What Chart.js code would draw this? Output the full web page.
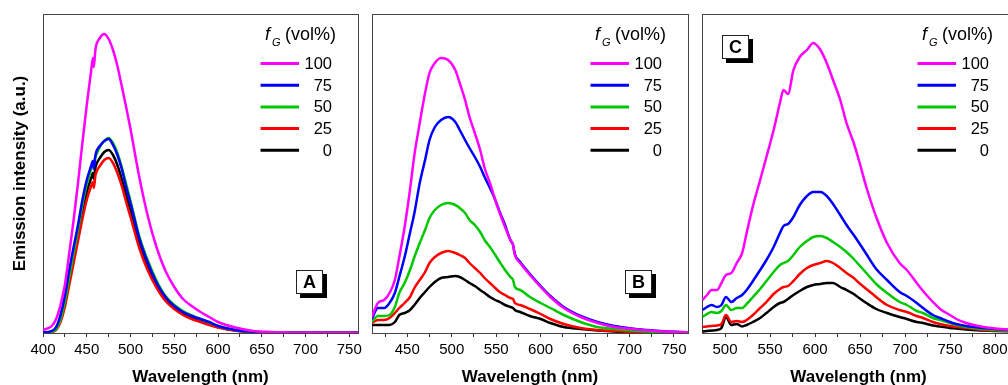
<!DOCTYPE html>
<html>
<head>
<meta charset="utf-8">
<script src="https://cdn.jsdelivr.net/npm/chart.js@4.4.1/dist/chart.umd.min.js"></script>
<style>
  html, body { margin: 0; padding: 0; background: #fff; overflow: hidden; width: 1008px; height: 385px; }
  canvas { position: absolute; top: 0; }
  #chartA { left: 0; }
  #chartB { left: 366px; }
  #chartC { left: 695px; }
</style>
</head>
<body>
<canvas id="chartA" width="366" height="385"></canvas>
<canvas id="chartB" width="329" height="385"></canvas>
<canvas id="chartC" width="335" height="385"></canvas>
<script>
var fgLabels = ["100", "75", "50", "25", "0"];
var colors = ["#ff00ff", "#0000ff", "#00c800", "#ff0000", "#000000"];
var FONT = '"Liberation Sans", Arial, sans-serif';

// panel A
var wlA = [400, 410, 415, 420, 425, 430, 435, 440, 445, 450, 455, 457, 458, 460, 465, 470, 475, 480, 485, 490, 495, 500,
  510, 520, 530, 540, 550, 560, 570, 580, 590, 600, 620, 640, 660, 680, 700, 730, 760];
var a100 = [3, 7, 14, 28, 48, 80, 113, 150, 190, 228, 262, 275, 266, 284, 295, 299, 294, 283, 267, 247, 226, 204,
  156, 116, 85, 62, 46, 34, 27, 21, 16, 11, 5.5, 2, 1, 0.6, 0.4, 0.3, 0.3];
var a75 = [0.5, 2, 6, 18, 37, 63, 86, 108, 133, 153, 167, 172, 164, 178, 187, 192, 194, 188, 178, 164, 146, 130,
  95, 70, 50, 36, 27, 21, 17, 14, 11, 7, 3, 1.2, 0.5, 0.3, 0.2, 0.2, 0.2];
var a50 = [0.3, 1.5, 4, 14, 31, 56, 80, 103, 128, 149, 164, 169, 171, 176, 186, 192, 195, 190, 180, 166, 149, 132,
  97, 72, 52, 37, 28, 22, 17.5, 14, 10.5, 7, 3, 1.2, 0.5, 0.3, 0.2, 0.2, 0.2];
var a25 = [0.2, 1, 3, 11, 26, 48, 70, 92, 114, 133, 147, 151, 145, 158, 167, 173, 175, 170, 160, 147, 131, 116,
  85, 62, 45, 32, 24, 18, 14, 11, 8, 5.5, 2.3, 0.9, 0.4, 0.3, 0.2, 0.2, 0.2];
var a0 = [0.3, 1.5, 4, 14, 30, 54, 77, 99, 122, 141, 155, 160, 154, 166, 175, 181, 183, 178, 168, 154, 138, 122,
  89, 65, 47, 34, 25, 19, 15, 12, 9, 6, 2.5, 1, 0.4, 0.3, 0.2, 0.2, 0.2];
var ticksA = [400, 425, 450, 475, 500, 525, 550, 575, 600, 625, 650, 675, 700, 725, 750];

// panel B
var wlB = [410, 417, 424, 430, 436, 441, 447, 453, 458, 464, 470, 475, 481, 488, 496, 504, 509, 515, 520, 526,
  532, 537, 543, 549, 554, 560, 566, 569, 571, 577, 588, 600, 611, 626, 645, 664, 683, 702, 720, 739, 765];
var b100 = [16, 30, 33, 40, 53, 76, 106, 143, 178, 210, 240, 260, 270, 275, 273, 263, 250, 233, 216, 200,
  183, 165, 150, 133, 120, 106, 93, 88, 78, 70, 58, 46, 36, 25, 16, 10, 6, 4, 2.5, 1.5, 0.8];
var b75 = [14, 25, 25, 30, 40, 56, 76, 100, 120, 150, 173, 193, 206, 213, 216, 211, 203, 193, 185, 176,
  166, 156, 145, 133, 121, 108, 93, 88, 79, 71, 59, 47, 37, 26, 17, 11, 7, 4.5, 3, 1.8, 0.8];
var b50 = [11, 17, 17, 18, 26, 40, 50, 63, 76, 90, 103, 115, 123, 128, 130, 128, 125, 120, 113, 108,
  101, 93, 86, 78, 71, 63, 56, 53, 46, 43, 36, 30, 25, 18, 11, 6, 4, 2.5, 1.5, 1, 0.5];
var b25 = [10, 13, 13, 15, 20, 25, 30, 36, 45, 53, 61, 70, 76, 80, 82, 80, 78, 75, 70, 65,
  60, 55, 50, 45, 41, 38, 35, 34, 30, 28, 24, 19, 14, 9, 5, 3, 2, 1.2, 0.8, 0.6, 0.5];
var b0 = [8, 8, 8, 8, 11, 18, 20, 23, 28, 35, 41, 46, 51, 55, 56, 57, 56, 53, 50, 47,
  43, 40, 36, 33, 31, 28, 26, 25, 23, 21, 17, 14, 10, 6, 4, 2.5, 1.5, 1, 0.7, 0.5, 0.4];
var ticksB = [425, 450, 475, 500, 525, 550, 575, 600, 625, 650, 675, 700, 725, 750];

// panel C
var wlC = [475, 480, 485, 491, 496, 501, 507, 513, 519, 524, 531, 539, 546, 554, 561, 565, 570, 576, 583, 591,
  598, 606, 613, 620, 628, 635, 643, 649, 657, 668, 680, 694, 702, 713, 720, 731, 739, 750, 757, 768, 787, 800, 822];
var c100 = [33, 38, 43, 43, 50, 58, 60, 70, 80, 100, 127, 153, 176, 203, 230, 243, 239, 263, 276, 283,
  290, 283, 270, 253, 233, 210, 190, 172, 146, 116, 90, 70, 63, 50, 42, 31, 24, 18, 14, 10, 6, 4.5, 3];
var c75 = [23, 26, 28, 26, 28, 36, 31, 35, 38, 43, 52, 63, 73, 86, 100, 107, 109, 116, 128, 137,
  141, 141, 137, 129, 118, 108, 98, 90, 79, 64, 53, 41, 37, 30, 25, 18, 15, 11, 9, 7, 5, 4, 3];
var c50 = [16, 19, 21, 20, 22, 28, 23, 25, 25, 29, 36, 44, 52, 61, 68, 70, 72, 78, 86, 92,
  96, 97, 95, 91, 86, 81, 74, 68, 60, 49, 40, 31, 28, 22, 20, 15, 13, 10, 8, 6, 4, 3, 2.5];
var c25 = [6, 6.5, 7, 7.5, 9, 18, 11, 12, 11, 13, 18, 25, 31, 39, 44, 46, 47, 52, 59, 65,
  68, 70, 72, 70, 65, 60, 55, 50, 44, 36, 28, 23, 21, 17, 15, 11, 9, 7, 6, 5, 3, 2.5, 2];
var c0 = [1.5, 2, 2.5, 3, 5, 16, 8, 9, 6.5, 8, 11, 15, 20, 26, 30, 31, 34, 38, 42, 46,
  48, 49, 50, 50, 46, 43, 39, 35, 30, 24, 20, 16, 14, 11, 10, 7.5, 6.5, 5, 4.5, 3.5, 2.5, 2, 1.5];
var ticksC = [500, 525, 550, 575, 600, 625, 650, 675, 700, 725, 750, 775, 800];

function makeSeries(wl, ys) {
  return wl.map(function (w, i) { return { x: w, y: ys[i] }; });
}

var framePlugin = {
  id: 'frame',
  beforeDatasetsDraw: function (chart) {
    var a = chart.chartArea, c = chart.ctx;
    c.save();
    c.strokeStyle = '#444';
    c.lineWidth = 1;
    c.strokeRect(Math.round(a.left) + 0.5, Math.round(a.top) + 0.5, Math.round(a.right - a.left), Math.round(a.bottom - a.top));
    c.restore();
  }
};

// legend drawn by hand: line sample, then the value right-aligned
var legendPlugin = {
  id: 'fgLegend',
  afterDraw: function (chart) {
    var a = chart.chartArea, c = chart.ctx, r = a.right;
    c.save();
    c.fillStyle = '#000';
    c.textAlign = 'left';
    c.textBaseline = 'alphabetic';
    c.font = 'italic 18px ' + FONT;
    c.fillText('f', r - 93, a.top + 26);
    c.font = 'italic 11px ' + FONT;
    c.fillText('G', r - 86, a.top + 32);
    c.font = '18px ' + FONT;
    c.fillText('(vol%)', r - 73, a.top + 26);
    chart.data.datasets.forEach(function (ds, i) {
      var y = a.top + 49.5 + i * 21.7;
      c.strokeStyle = ds.borderColor;
      c.lineWidth = 3;
      c.beginPath();
      c.moveTo(r - 97.5, y);
      c.lineTo(r - 59, y);
      c.stroke();
      c.font = '16.5px ' + FONT;
      c.textAlign = 'right';
      c.textBaseline = 'middle';
      c.fillText(ds.label, r - 26, y + 1);
    });
    c.restore();
  }
};

var tagPlugin = {
  id: 'tag',
  afterDraw: function (chart, args, opts) {
    var a = chart.chartArea, c = chart.ctx;
    var x = opts.right ? a.right - opts.dx : a.left + opts.dx;
    var y = opts.bottom ? a.bottom - opts.dy : a.top + opts.dy;
    x = Math.round(x); y = Math.round(y);
    c.save();
    c.fillStyle = '#000';
    c.fillRect(x + 4, y + 4, 27, 24);
    c.fillStyle = '#fff';
    c.fillRect(x, y, 27, 24);
    c.strokeStyle = '#222';
    c.lineWidth = 1;
    c.strokeRect(x + 0.5, y + 0.5, 26, 23);
    c.fillStyle = '#000';
    c.font = 'bold 18px ' + FONT;
    c.textAlign = 'center';
    c.textBaseline = 'middle';
    c.fillText(opts.text, x + 13.5, y + 13);
    c.restore();
  }
};

function panel(id, wl, series, xmin, xmax, tickVals, pad, tag, showY) {
  var datasets = series.map(function (ys, i) {
    return {
      label: fgLabels[i],
      data: makeSeries(wl, ys),
      borderColor: colors[i],
      backgroundColor: colors[i],
      borderWidth: 2.5,
      pointRadius: 0,
      fill: false,
      cubicInterpolationMode: 'monotone'
    };
  });
  return new Chart(document.getElementById(id), {
    type: 'line',
    data: { datasets: datasets },
    options: {
      responsive: false,
      animation: false,
      devicePixelRatio: 1,
      layout: { padding: pad },
      plugins: {
        legend: { display: false },
        tooltip: { enabled: false },
        tag: tag
      },
      scales: {
        x: {
          type: 'linear',
          min: xmin,
          max: xmax,
          bounds: 'data',
          afterBuildTicks: function (s) { s.ticks = tickVals.map(function (v) { return { value: v }; }); },
          afterFit: function (s) { s.height = 52; },
          grid: { drawOnChartArea: false, tickLength: 4, color: '#333' },
          border: { color: '#333' },
          ticks: {
            autoSkip: false, maxRotation: 0, color: '#000', padding: 4,
            font: { family: FONT, size: 15 },
            callback: function (v) { return v % 50 === 0 ? String(v) : ''; }
          },
          title: {
            display: true, text: 'Wavelength (nm)', color: '#000', padding: 0,
            font: { family: FONT, size: 17, weight: 'bold', lineHeight: 0.85 }
          }
        },
        y: {
          min: 0,
          max: 319,
          display: showY,
          afterFit: function (s) { s.width = showY ? 43 : 0; },
          grid: { display: false },
          border: { display: false },
          ticks: { display: false },
          title: {
            display: true, text: 'Emission intensity (a.u.)', color: '#000',
            padding: { top: 11.5, bottom: 0 },
            font: { family: FONT, size: 17, weight: 'bold', lineHeight: 1 }
          }
        }
      }
    },
    plugins: [framePlugin, legendPlugin, tagPlugin]
  });
}

panel('chartA', wlA, [a100, a75, a50, a25, a0], 400, 760, ticksA,
  { left: 0, right: 7, top: 14, bottom: 0 }, { text: 'A', right: true, dx: 62, bottom: true, dy: 63 }, true);
panel('chartB', wlB, [b100, b75, b50, b25, b0], 410.3, 765.8, ticksB,
  { left: 6, right: 7, top: 14, bottom: 0 }, { text: 'B', right: true, dx: 63, bottom: true, dy: 63 }, false);
panel('chartC', wlC, [c100, c75, c50, c25, c0], 474.4, 822.2, ticksC,
  { left: 7, right: 15, top: 14, bottom: 0 }, { text: 'C', right: false, dx: 19.5, bottom: false, dy: 21 }, false);
</script>
</body>
</html>
